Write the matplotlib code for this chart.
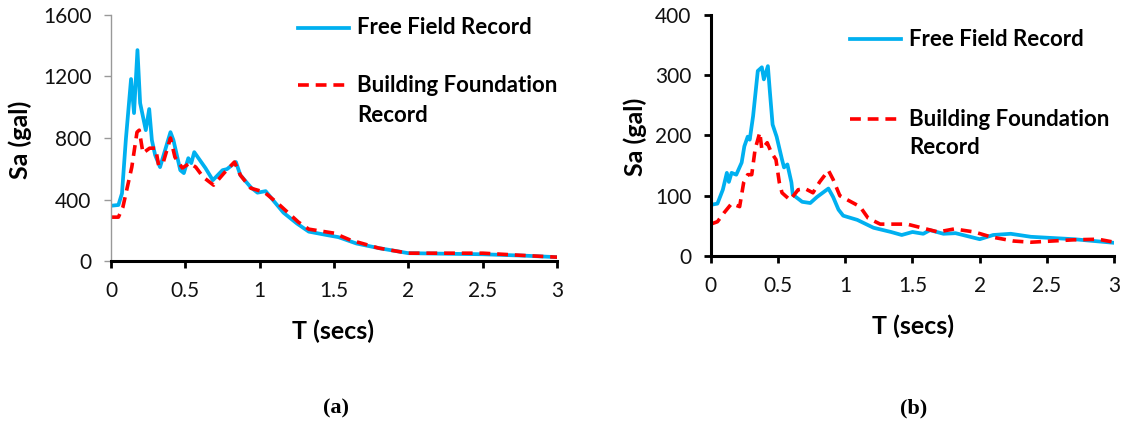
import matplotlib
matplotlib.use("Agg")
import matplotlib.pyplot as plt
from matplotlib.lines import Line2D

plt.rcParams["font.family"] = ["Lato", "DejaVu Sans"]

# ---- response spectra, panel (a) ----------------------------------------------
t_ff_a = [0, 0.05, 0.074, 0.10, 0.135, 0.155, 0.178, 0.196, 0.234, 0.257, 0.275,
          0.297, 0.33, 0.40, 0.42, 0.466, 0.49, 0.52, 0.54, 0.56, 0.635, 0.685,
          0.75, 0.78, 0.84, 0.87, 0.94, 0.985, 1.04, 1.09, 1.16, 1.25, 1.33, 1.45,
          1.53, 1.65, 1.80, 2.0, 2.5, 2.8, 3.0]
sa_ff_a = [360, 365, 440, 790, 1183, 962, 1371, 1027, 851, 988, 786,
           689, 611, 838, 786, 591, 572, 669, 637, 708, 605, 526,
           591, 598, 644, 559, 480, 445, 455, 396, 315, 245, 192, 170,
           156, 115, 85, 52, 45, 35, 26]

t_bf_a = [0, 0.05, 0.08, 0.11, 0.14, 0.16, 0.175, 0.19, 0.215, 0.26, 0.30, 0.32,
          0.35, 0.40, 0.43, 0.48, 0.53, 0.57, 0.62, 0.69, 0.76, 0.83, 0.87, 0.94,
          1.03, 1.12, 1.26, 1.33, 1.50, 1.61, 1.80, 2.0, 2.5, 2.74, 3.0]
sa_bf_a = [286, 286, 351, 481, 611, 741, 838, 851, 702, 734, 734, 624,
           637, 800, 676, 605, 637, 611, 546, 494, 572, 644, 559, 474,
           449, 377, 254, 208, 182, 137, 85, 52, 52, 39, 26]

# ---- response spectra, panel (b) ----------------------------------------------
t_ff_b = [0, 0.05, 0.09, 0.12, 0.135, 0.155, 0.19, 0.23, 0.25, 0.275, 0.29, 0.315,
          0.35, 0.38, 0.395, 0.425, 0.44, 0.46, 0.49, 0.53, 0.545, 0.57, 0.60,
          0.61, 0.68, 0.74, 0.79, 0.875, 0.91, 0.95, 0.985, 1.09, 1.21, 1.34,
          1.42, 1.5, 1.58, 1.63, 1.73, 1.82, 2.0, 2.1, 2.23, 2.38, 2.7, 3.0]
sa_ff_b = [85, 87, 110, 138, 123, 138, 135, 155, 182, 198, 193, 232,
           307, 313, 293, 315, 272, 218, 198, 160, 147, 152, 122,
           102, 90, 88, 98, 112, 98, 77, 67, 60, 47, 40,
           35, 40, 37, 43, 37, 38, 28, 35, 37, 32, 28, 22]

t_bf_b = [0, 0.05, 0.10, 0.155, 0.215, 0.245, 0.275, 0.305, 0.33, 0.365, 0.38,
          0.42, 0.45, 0.485, 0.51, 0.53, 0.59, 0.65, 0.70, 0.76, 0.81, 0.875,
          0.91, 0.96, 1.06, 1.11, 1.17, 1.26, 1.46, 1.69, 1.81, 1.96, 2.08, 2.25,
          2.38, 2.7, 2.88, 3.0]
sa_bf_b = [53, 57, 72, 87, 82, 122, 135, 135, 177, 205, 177,
           188, 172, 160, 122, 105, 93, 110, 112, 105, 123, 142,
           127, 100, 88, 82, 63, 53, 53, 40, 45, 40, 32, 25,
           23, 27, 28, 23]

x_ticks = [0, 0.5, 1, 1.5, 2, 2.5, 3]
x_tick_labels = ["0", "0.5", "1", "1.5", "2", "2.5", "3"]
y_ticks_a = [0, 400, 800, 1200, 1600]
y_ticks_b = [0, 100, 200, 300, 400]

BLUE = "#00B0F0"
RED = "#FF0000"
DASH = (0, (3.0, 1.9))

fig = plt.figure(figsize=(11.21, 4.24), dpi=100)
ax_a = fig.add_axes([0.099, 0.384, 0.398, 0.581])
ax_b = fig.add_axes([0.634, 0.396, 0.360, 0.569])


def draw_panel(ax, t_ff, sa_ff, t_bf, sa_bf, yticks, ycolor):
    ax.plot(t_ff, sa_ff, color=BLUE, lw=2.7, solid_joinstyle="round")
    ax.plot(t_bf, sa_bf, color=RED, lw=2.6, ls=DASH)
    ax.set_xlim(0, 3)
    ax.set_ylim(yticks[0], yticks[-1])
    ax.set_xticks(x_ticks)
    ax.set_xticklabels(x_tick_labels)
    ax.set_yticks(yticks)
    ax.set_yticklabels([str(v) for v in yticks])
    for s in ("top", "right"):
        ax.spines[s].set_visible(False)
    thin = ycolor != "black"
    ax.spines["bottom"].set_linewidth(2.2)
    ax.spines["bottom"].set_color("black")
    ax.spines["left"].set_color(ycolor)
    ax.spines["left"].set_linewidth(1.0 if thin else 2.2)
    ax.tick_params(axis="x", direction="out", length=5, width=2.0, color="black",
                   labelsize=15, pad=9, labelcolor="#111111")
    ax.tick_params(axis="y", direction="out", length=5, width=1.0 if thin else 2.0,
                   color=ycolor, labelsize=15, pad=9, labelcolor="#111111")
    ax.set_facecolor("none")


draw_panel(ax_a, t_ff_a, sa_ff_a, t_bf_a, sa_bf_a, y_ticks_a, "#999999")
draw_panel(ax_b, t_ff_b, sa_ff_b, t_bf_b, sa_bf_b, y_ticks_b, "black")

W, H = 1121.0, 424.0


def fx(px):
    return px / W


def fy(py):
    return 1 - py / H


# axis titles
fig.text(fx(333), fy(331), "T (secs)", ha="center", va="center", fontsize=18, fontweight="bold")
fig.text(fx(913), fy(326), "T (secs)", ha="center", va="center", fontsize=18, fontweight="bold")
fig.text(fx(20), fy(140), "Sa (gal)", ha="center", va="center", rotation=90, fontsize=18, fontweight="bold")
fig.text(fx(635), fy(137), "Sa (gal)", ha="center", va="center", rotation=90, fontsize=18, fontweight="bold")


# panel legends
def legend(x_line, x_text, y1, y2, y3):
    fig.add_artist(Line2D([fx(x_line), fx(x_line + 51)], [fy(y1), fy(y1)], color=BLUE, lw=2.7))
    fig.add_artist(Line2D([fx(x_line), fx(x_line + 51)], [fy(y2), fy(y2)], color=RED, lw=2.6, ls=DASH))
    fig.text(fx(x_text), fy(y1), "Free Field Record", ha="left", va="center", fontsize=16, fontweight="bold")
    fig.text(fx(x_text), fy(y2), "Building Foundation", ha="left", va="center", fontsize=16, fontweight="bold")
    fig.text(fx(x_text), fy(y3), "Record", ha="left", va="center", fontsize=16, fontweight="bold")


legend(298, 357, 28, 85, 115)
legend(850, 909, 39, 119, 148)

# panel captions
fig.text(fx(336), fy(408), "(a)", ha="center", va="center", fontsize=16, fontweight="bold",
         family="Liberation Serif")
fig.text(fx(914), fy(408), "(b)", ha="center", va="center", fontsize=16, fontweight="bold",
         family="Liberation Serif")

fig.savefig("out.png", dpi=100)
